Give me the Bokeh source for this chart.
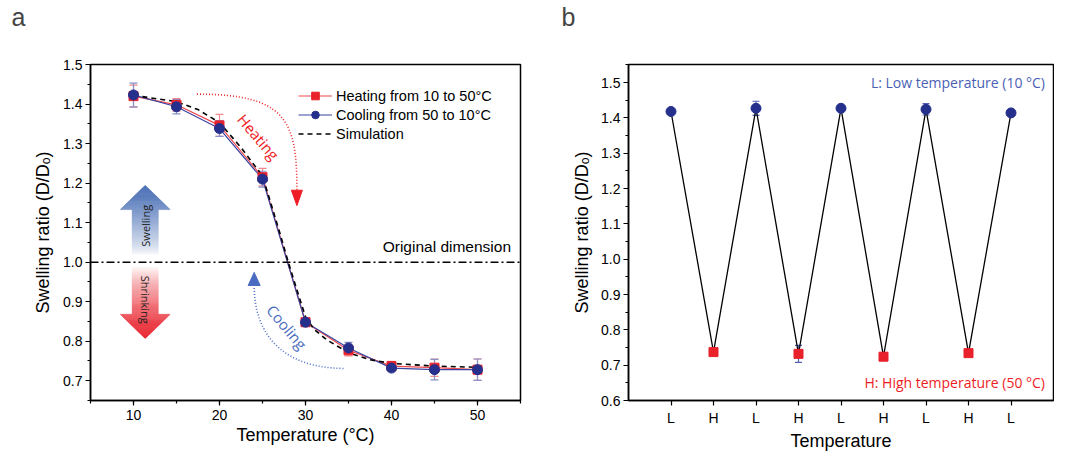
import numpy as np
from bokeh.plotting import figure
from bokeh.layouts import row
from bokeh.models import (ColumnDataSource, Whisker, TeeHead, Span, Legend, LegendItem,
                          SingleIntervalTicker, FixedTicker, NumeralTickFormatter, Range1d)
from bokeh.core.properties import value
from bokeh.embed import file_html
from bokeh.resources import INLINE

# ---------------- data: panel a ----------------
temperature = [10, 15, 20, 25, 30, 35, 40, 45, 50]
heating_ratio = [1.420, 1.398, 1.346, 1.215, 0.848, 0.777, 0.737, 0.733, 0.728]
heating_err = [0.028, 0.016, 0.028, 0.022, 0.010, 0.014, 0.012, 0.022, 0.027]
cooling_ratio = [1.423, 1.393, 1.338, 1.210, 0.848, 0.783, 0.732, 0.728, 0.728]
cooling_err = [0.030, 0.018, 0.020, 0.020, 0.010, 0.014, 0.008, 0.026, 0.027]
sim_temperature = [10, 15, 17.5, 20, 22.5, 25, 26, 27, 28, 29, 30, 31, 32.5, 35, 37.5, 40, 45, 50]
sim_ratio = [1.422, 1.406, 1.386, 1.353, 1.290, 1.218, 1.147, 1.075, 1.000, 0.930, 0.862,
             0.830, 0.803, 0.771, 0.753, 0.744, 0.737, 0.734]

# ---------------- data: panel b ----------------
cycle_labels = ["L", "H", "L", "H", "L", "H", "L", "H", "L"]
cycle_ratio = [1.418, 0.737, 1.427, 0.732, 1.427, 0.724, 1.424, 0.734, 1.414]
cycle_err = [0.004, 0.005, 0.020, 0.024, 0.004, 0.010, 0.016, 0.006, 0.005]

AX_FONT = "Liberation Sans"
ANN_FONT = "Open Sans"
RED = "#e8212b"
NAVY = "#252f8c"

W1, W2, H = 540, 514, 453
BORDER_TOP_A, BORDER_BOTTOM = 63, 52


def style_axes(p):
    p.xgrid.visible = False
    p.ygrid.visible = False
    p.outline_line_color = "black"
    p.outline_line_width = 1.5
    p.outline_line_alpha = 1
    p.background_fill_color = "white"
    p.border_fill_color = "white"
    for ax in (p.xaxis[0], p.yaxis[0]):
        ax.axis_line_width = 1.5
        ax.axis_line_color = "black"
        ax.major_tick_out = 5
        ax.major_tick_in = 0
        ax.minor_tick_out = 3
        ax.minor_tick_in = 0
        ax.major_tick_line_width = 1.2
        ax.minor_tick_line_width = 1.2
        ax.major_tick_line_color = "black"
        ax.minor_tick_line_color = "black"
        ax.major_label_text_font = AX_FONT
        ax.major_label_text_font_size = "14px"
        ax.major_label_text_color = "black"
        ax.axis_label_text_font = AX_FONT
        ax.axis_label_text_font_size = "18px"
        ax.axis_label_text_font_style = "normal"
        ax.axis_label_text_color = "black"
    p.xaxis[0].major_label_standoff = 4
    p.xaxis[0].axis_label_standoff = 2
    p.yaxis[0].major_label_standoff = 3
    p.yaxis[0].axis_label_standoff = 7


def style_title(p, text, offset):
    # a second, empty line lifts the panel letter towards the top edge
    p.title.text = text + "\n "
    p.title.text_font = AX_FONT
    p.title.text_font_size = "25px"
    p.title.text_font_style = "normal"
    p.title.text_line_height = 1.2
    p.title.align = "left"
    p.title.offset = offset
    p.title.standoff = 0


def gradient_arrow(p, xc, y_tail, y_base, y_tip, shaft_hw, head_hw, rgb, n_shaft=45, n_head=25):
    xs, ys, cols = [], [], []
    total = abs(y_tip - y_tail)

    def col(y):
        t = min(1.0, abs(y - y_tail) / total) ** 0.75
        c = [int(round(255 + (v - 255) * t)) for v in rgb]
        return "#%02x%02x%02x" % tuple(c)

    ysh = np.linspace(y_tail, y_base, n_shaft + 1)
    for a, b in zip(ysh[:-1], ysh[1:]):
        xs.append([xc - shaft_hw, xc + shaft_hw, xc + shaft_hw, xc - shaft_hw])
        ys.append([a, a, b, b])
        cols.append(col((a + b) / 2))
    yhd = np.linspace(y_base, y_tip, n_head + 1)
    for a, b in zip(yhd[:-1], yhd[1:]):
        ha = head_hw * (y_tip - a) / (y_tip - y_base)
        hb = head_hw * (y_tip - b) / (y_tip - y_base)
        xs.append([xc - ha, xc + ha, xc + hb, xc - hb])
        ys.append([a, a, b, b])
        cols.append(col((a + b) / 2))
    p.patches(xs, ys, fill_color=cols, line_color=cols, line_width=0.6)


# ======================= panel a =======================
pa = figure(width=W1, height=H, x_range=Range1d(5, 55), y_range=Range1d(0.65, 1.5),
            output_backend="svg", toolbar_location=None,
            min_border_left=90, min_border_right=20, min_border_top=BORDER_TOP_A,
            min_border_bottom=BORDER_BOTTOM)
style_axes(pa)
pa.xaxis[0].ticker = SingleIntervalTicker(interval=10, num_minor_ticks=2)
pa.yaxis[0].ticker = SingleIntervalTicker(interval=0.1, num_minor_ticks=2)
pa.yaxis[0].formatter = NumeralTickFormatter(format="0.0")
pa.xaxis[0].axis_label = "Temperature (°C)"
pa.yaxis[0].axis_label = "Swelling ratio (D/Dₒ)"
style_title(pa, "a", -79)

# big gradient arrows
gradient_arrow(pa, 11.36, 1.019, 1.133, 1.194, 1.51, 2.9, (70, 108, 180))
gradient_arrow(pa, 11.36, 0.987, 0.868, 0.807, 1.51, 2.9, (232, 30, 40))
pa.text(x=[11.36], y=[1.092], text=["Swelling"], angle=np.pi / 2,
        text_font=value(ANN_FONT), text_font_size="11px", text_color="#222222",
        text_align="center", text_baseline="middle")
pa.text(x=[11.36], y=[0.905], text=["Shrinking"], angle=-np.pi / 2,
        text_font=value(ANN_FONT), text_font_size="11px", text_color="#222222",
        text_align="center", text_baseline="middle")

# original dimension
pa.add_layout(Span(location=1.0, dimension="width", line_color="black", line_width=1.5,
                   line_dash="8 3 2 3"))
pa.text(x=[53.9], y=[1.039], text=["Original dimension"], text_font=value(AX_FONT),
        text_font_size="15.5px", text_color="black", text_align="right", text_baseline="middle")

# heating / cooling curved arrows
pa.bezier(x0=[17.37], y0=[1.425], x1=[29.0], y1=[1.182], cx0=[27.64], cy0=[1.425],
          cx1=[29.03], cy1=[1.361], line_color="#ee2a2f", line_width=1.6, line_dash="1 2")
pa.patch([28.36, 29.64, 29.0], [1.182, 1.182, 1.143], color="#ee1c25")
pa.text(x=[24.53], y=[1.317], text=["Heating"], angle=-0.87, text_font=value(ANN_FONT),
        text_font_size="15px", text_color="#ee1c25", text_align="center", text_baseline="middle")

pa.bezier(x0=[34.42], y0=[0.731], x1=[24.03], y1=[0.941], cx0=[27.06], cy0=[0.733],
          cx1=[24.03], cy1=[0.8225], line_color="#4f6fc8", line_width=1.6, line_dash="1 2")
pa.patch([23.33, 24.73, 24.03], [0.941, 0.941, 0.974], color="#4a6cc0")
pa.text(x=[27.84], y=[0.836], text=["Cooling"], angle=-0.87, text_font=value(ANN_FONT),
        text_font_size="15px", text_color="#4a6cc0", text_align="center", text_baseline="middle")

# data
src_h = ColumnDataSource(dict(x=temperature, y=heating_ratio,
                              lo=[v - e for v, e in zip(heating_ratio, heating_err)],
                              hi=[v + e for v, e in zip(heating_ratio, heating_err)]))
src_c = ColumnDataSource(dict(x=temperature, y=cooling_ratio,
                              lo=[v - e for v, e in zip(cooling_ratio, cooling_err)],
                              hi=[v + e for v, e in zip(cooling_ratio, cooling_err)]))
for src, ec in ((src_h, "#f08a8e"), (src_c, "#8a90c8")):
    pa.add_layout(Whisker(source=src, base="x", upper="hi", lower="lo", dimension="height",
                          line_color=ec, line_width=1.2,
                          upper_head=TeeHead(size=8, line_color=ec, line_width=1.2),
                          lower_head=TeeHead(size=8, line_color=ec, line_width=1.2)))

h_line = pa.line("x", "y", source=src_h, line_color="#f0474c", line_width=1.2)
c_line = pa.line("x", "y", source=src_c, line_color="#3a45a0", line_width=1.2)
sim_line = pa.line(sim_temperature, sim_ratio, line_color="black", line_width=1.6, line_dash="5 4")
h_pts = pa.scatter("x", "y", source=src_h, marker="square", size=9, fill_color=RED, line_color=RED)
c_pts = pa.scatter("x", "y", source=src_c, marker="circle", size=10, fill_color=NAVY, line_color=NAVY)

frame_h_a = H - BORDER_TOP_A - BORDER_BOTTOM
legend = Legend(items=[
    LegendItem(label="Heating from 10 to 50°C", renderers=[h_line, h_pts]),
    LegendItem(label="Cooling from 50 to 10°C", renderers=[c_line, c_pts]),
    LegendItem(label="Simulation", renderers=[sim_line]),
], location=(208, frame_h_a - 24 - 57))
legend.background_fill_alpha = 0
legend.border_line_color = None
legend.padding = 0
legend.margin = 0
legend.spacing = 0
legend.glyph_width = 34
legend.glyph_height = 19
legend.label_height = 19
legend.label_standoff = 4
legend.label_text_font = AX_FONT
legend.label_text_font_size = "14.5px"
legend.label_text_color = "black"
pa.add_layout(legend)

# ======================= panel b =======================
positions = list(range(1, len(cycle_labels) + 1))
pb = figure(width=W2, height=H, x_range=Range1d(0, 10), y_range=Range1d(0.6, 1.551),
            output_backend="svg", toolbar_location=None,
            min_border_left=88, min_border_right=1, min_border_top=64,
            min_border_bottom=BORDER_BOTTOM)
style_axes(pb)
pb.xaxis[0].ticker = FixedTicker(ticks=positions, minor_ticks=[])
pb.xaxis[0].major_label_overrides = {pos: lab for pos, lab in zip(positions, cycle_labels)}
pb.yaxis[0].ticker = SingleIntervalTicker(interval=0.1, num_minor_ticks=2)
pb.yaxis[0].formatter = NumeralTickFormatter(format="0.0")
pb.xaxis[0].axis_label = "Temperature"
pb.yaxis[0].axis_label = "Swelling ratio (D/Dₒ)"
pb.yaxis[0].axis_label_standoff = 6
style_title(pb, "b", -67)

src_b = ColumnDataSource(dict(x=positions, y=cycle_ratio,
                              lo=[v - e for v, e in zip(cycle_ratio, cycle_err)],
                              hi=[v + e for v, e in zip(cycle_ratio, cycle_err)]))
pb.add_layout(Whisker(source=src_b, base="x", upper="hi", lower="lo", dimension="height",
                      line_color="#5560b0", line_width=1.2,
                      upper_head=TeeHead(size=7, line_color="#5560b0", line_width=1.2),
                      lower_head=TeeHead(size=7, line_color="#5560b0", line_width=1.2)))
pb.line("x", "y", source=src_b, line_color="black", line_width=1.3)
low_x = [x for x, l in zip(positions, cycle_labels) if l == "L"]
low_y = [y for y, l in zip(cycle_ratio, cycle_labels) if l == "L"]
high_x = [x for x, l in zip(positions, cycle_labels) if l == "H"]
high_y = [y for y, l in zip(cycle_ratio, cycle_labels) if l == "H"]
pb.scatter(low_x, low_y, marker="circle", size=10, fill_color=NAVY, line_color=NAVY)
pb.scatter(high_x, high_y, marker="square", size=9, fill_color=RED, line_color=RED)

pb.text(x=[9.8], y=[1.5], text=["L: Low temperature (10 °C)"], text_font=value(ANN_FONT),
        text_font_size="14px", text_color="#4a5fb4", text_align="right", text_baseline="middle")
pb.text(x=[9.8], y=[0.651], text=["H: High temperature (50 °C)"], text_font=value(ANN_FONT),
        text_font_size="14px", text_color="#ec1c24", text_align="right", text_baseline="middle")

layout = row(pa, pb)
open("out.html", "w").write(file_html(layout, INLINE))
